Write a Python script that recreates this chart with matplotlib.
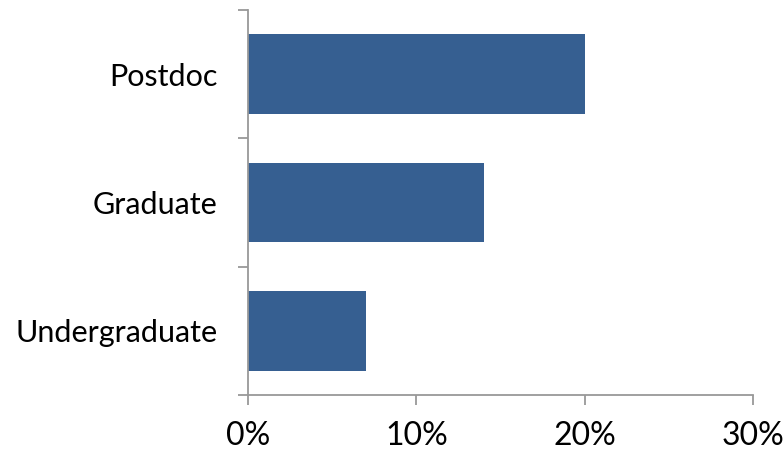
import numpy as np
import matplotlib.pyplot as plt
from matplotlib.ticker import FixedLocator, PercentFormatter

categories = ['Undergraduate', 'Graduate', 'Postdoc']
values = [7, 14, 20]
x_ticks = [0, 10, 20, 30]

BAR_COLOR = '#365F91'
AXIS_COLOR = '#999999'

plt.rcParams['font.family'] = ['Lato', 'DejaVu Sans']

fig = plt.figure(figsize=(7.84, 4.51), dpi=100)
ax = fig.add_axes([248/784, 56/451, (753-248)/784, (395-10)/451])

ypos = np.arange(len(categories))
ax.barh(ypos, values, height=0.62, color=BAR_COLOR)

ax.set_xlim(0, 30)
ax.set_ylim(-0.5, len(categories) - 0.5)

# labels at bar centres, tick marks at the category boundaries
ax.set_yticks(ypos)
ax.set_yticklabels(categories)
ax.yaxis.set_minor_locator(FixedLocator(np.arange(-0.5, len(categories), 1)))
ax.tick_params(axis='y', which='major', length=0, pad=22, labelsize=22)
ax.tick_params(axis='y', which='minor', length=7, width=1.3, color=AXIS_COLOR)

ax.set_xticks(x_ticks)
ax.xaxis.set_major_formatter(PercentFormatter(decimals=0))
ax.tick_params(axis='x', length=7, width=1.3, color=AXIS_COLOR, pad=12, labelsize=23)

for side in ['top', 'right']:
    ax.spines[side].set_visible(False)
for side in ['left', 'bottom']:
    ax.spines[side].set_color(AXIS_COLOR)
    ax.spines[side].set_linewidth(1.3)

fig.savefig('out.png', dpi=100)
